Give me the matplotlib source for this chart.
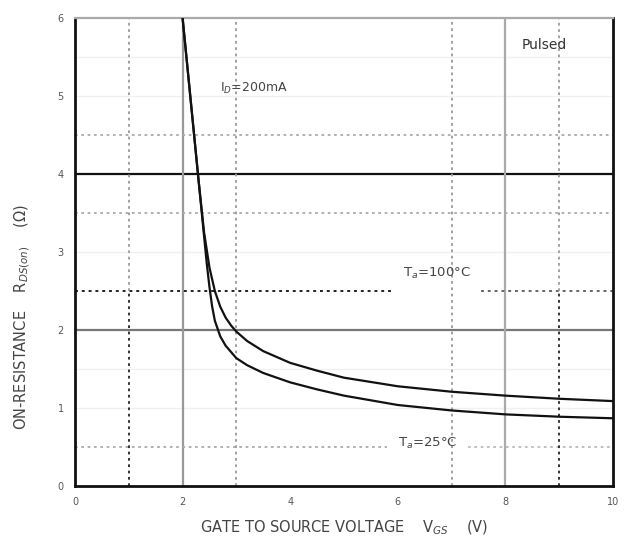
import matplotlib.pyplot as plt

# gate-source voltage (V) vs on-resistance (ohm)
vgs_100c = [2.0, 2.1, 2.2, 2.3, 2.4, 2.5, 2.6, 2.7, 2.8, 2.9, 3.0, 3.2, 3.5, 4.0, 4.5, 5.0, 6.0, 7.0, 8.0, 9.0, 10.0]
rds_100c = [6.0, 5.3, 4.6, 3.9, 3.25, 2.8, 2.5, 2.3, 2.16, 2.06, 1.98, 1.86, 1.73, 1.58, 1.48, 1.39, 1.28, 1.21, 1.16, 1.12, 1.09]

vgs_25c = [2.0, 2.1, 2.2, 2.3, 2.4, 2.45, 2.5, 2.55, 2.6, 2.7, 2.8, 3.0, 3.2, 3.5, 4.0, 4.5, 5.0, 6.0, 7.0, 8.0, 9.0, 10.0]
rds_25c = [6.0, 5.3, 4.6, 3.9, 3.2, 2.85, 2.55, 2.3, 2.12, 1.92, 1.8, 1.64, 1.55, 1.45, 1.33, 1.24, 1.16, 1.04, 0.97, 0.92, 0.89, 0.87]

x_ticks = [0, 2, 4, 6, 8, 10]
y_ticks = [0, 1, 2, 3, 4, 5, 6]

fig = plt.figure(figsize=(6.3, 5.42), dpi=100)
ax = fig.add_axes([0.119, 0.103, 0.854, 0.864])
ax.set_xlim(0, 10)
ax.set_ylim(0, 6)

dot = (0, (1.5, 2))

# grid, imitating the scanned datasheet
ax.axhline(4, color='#111111', lw=1.6, zorder=1)
ax.axhline(2, color='#777777', lw=1.6, zorder=1)
ax.axvline(2, color='#999999', lw=1.6, zorder=1)
ax.axvline(8, color='#aaaaaa', lw=1.6, zorder=1)
for y in [3.5, 4.5]:
    ax.axhline(y, color='#aaaaaa', lw=1.3, ls=dot, zorder=1)
ax.plot([0, 5.8], [0.5, 0.5], color='#aaaaaa', lw=1.3, ls=dot, zorder=1)
ax.plot([7.3, 10], [0.5, 0.5], color='#bbbbbb', lw=1.3, ls=dot, zorder=1)
for y in [1.0, 1.5, 3.0, 5.0, 5.5]:
    ax.axhline(y, color='#f0f0f0', lw=1.0, zorder=0)
ax.plot([0, 5.87], [2.5, 2.5], color='#222222', lw=1.4, ls=dot, zorder=1)
ax.plot([7.54, 10], [2.5, 2.5], color='#666666', lw=1.4, ls=dot, zorder=1)
for x in [1, 9]:
    ax.plot([x, x], [2.5, 6], color='#999999', lw=1.3, ls=dot, zorder=1)
    ax.plot([x, x], [0, 2.5], color='#222222', lw=1.3, ls=dot, zorder=1)
for x in [3, 7]:
    ax.axvline(x, color='#999999', lw=1.3, ls=dot, zorder=1)

ax.plot(vgs_100c, rds_100c, color='#111111', lw=1.6, zorder=3)
ax.plot(vgs_25c, rds_25c, color='#111111', lw=1.6, zorder=3)

ax.text(2.7, 5.1, r'I$_D$=200mA', fontsize=9, color='#444444', va='center')
ax.text(6.1, 2.72, r'T$_a$=100$\degree$C', fontsize=9.5, color='#444444', va='center')
ax.text(6.0, 0.55, r'T$_a$=25$\degree$C', fontsize=9.5, color='#444444', va='center')
ax.text(8.3, 5.65, 'Pulsed', fontsize=10, color='#333333', va='center')

ax.set_xticks(x_ticks)
ax.set_yticks(y_ticks)
ax.tick_params(labelsize=7, length=0, pad=8, colors='#555555')
for side in ['left', 'bottom', 'right']:
    ax.spines[side].set_linewidth(2)
    ax.spines[side].set_color('#111111')
ax.spines['top'].set_linewidth(1.6)
ax.spines['top'].set_color('#aaaaaa')

ax.set_xlabel(r'GATE TO SOURCE VOLTAGE    V$_{GS}$    (V)', fontsize=10.5, color='#444444')
ax.xaxis.set_label_coords(0.5, -0.07)
ax.set_ylabel(r'ON-RESISTANCE    R$_{DS(on)}$    ($\Omega$)', fontsize=10.5, color='#444444')
ax.yaxis.set_label_coords(-0.08, 0.36)

fig.savefig('out.png', dpi=100)
